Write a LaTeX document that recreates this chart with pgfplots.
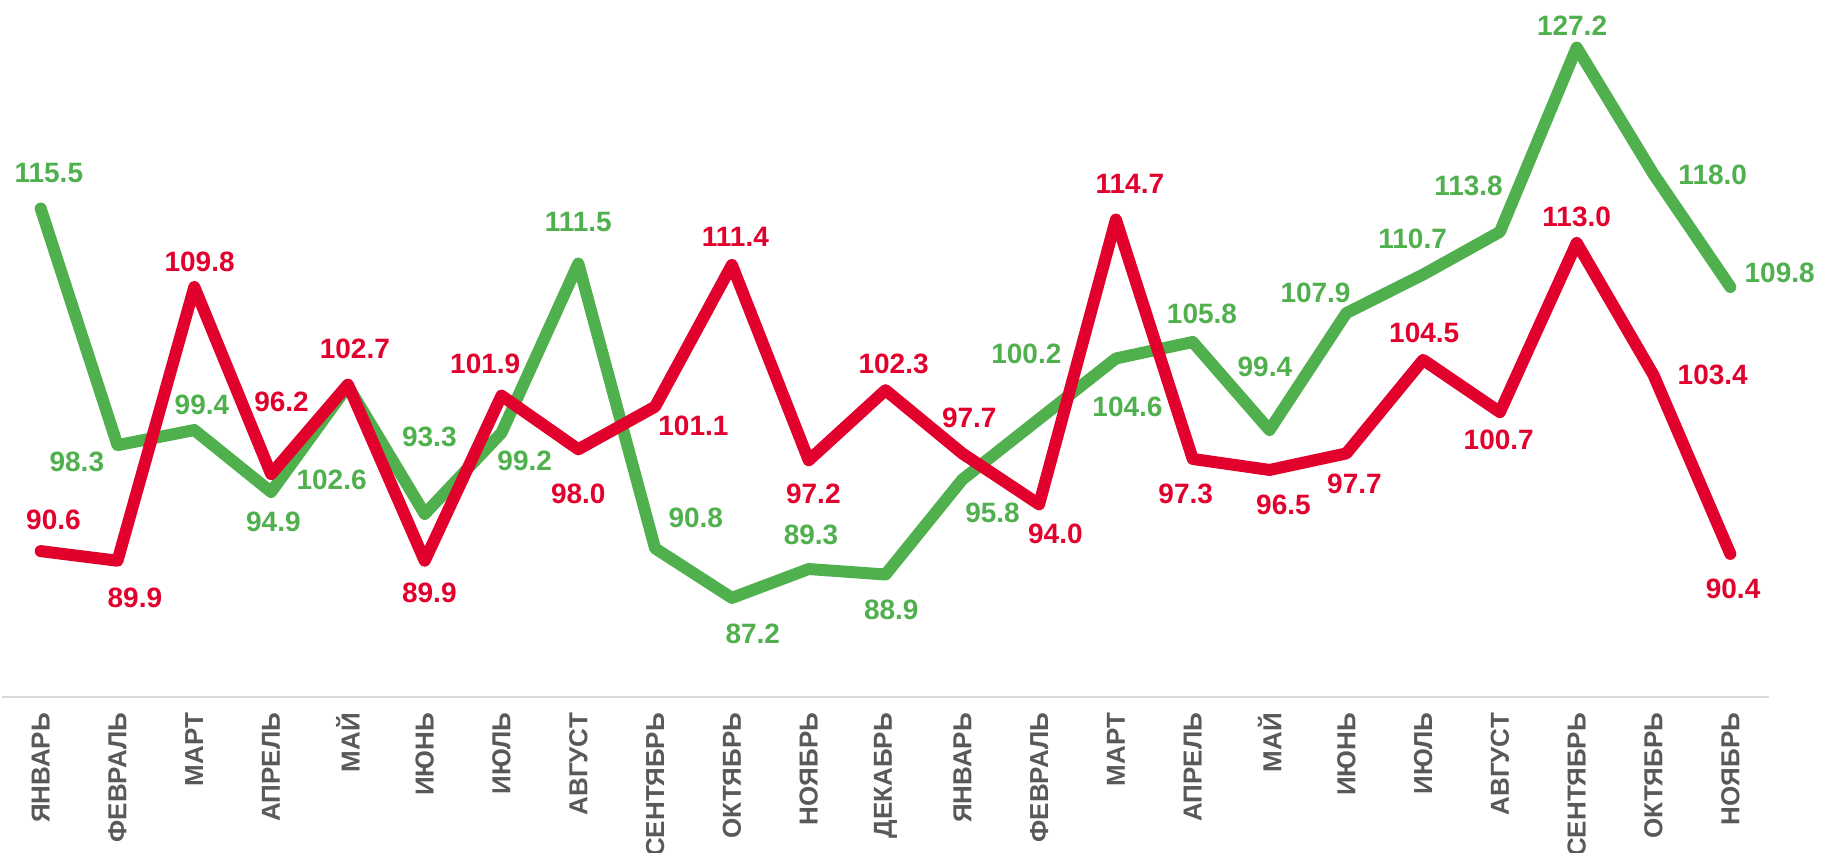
\documentclass[border=0pt]{standalone}
\usepackage{pgfplots}
\pgfplotsset{compat=1.18}
\usepackage{pgfplotstable}
\usepackage{fontspec}
\setmainfont{Liberation Sans}
\definecolor{cgreen}{RGB}{80,176,78}
\definecolor{cred}{RGB}{226,0,45}
\definecolor{ctick}{RGB}{89,89,89}
\definecolor{cline}{RGB}{217,217,217}
\pgfplotstableread{
x g r dxg dyg dxr dyr
0 115.5 90.6 7 -31 11 -27
1 98.3 89.9 -35 14.5 15 32
2 99.4 109.8 6.6 -22 4.6 -21.6
3 94.9 96.2 2 26 9 -62
4 102.6 102.7 -14 81 6 -31
5 93.3 89.9 4 -66 4 28
6 99.2 101.9 20 24 -14 -27.5
7 111.5 98.0 0 -36 0 38
8 90.8 101.1 35 -26 33 16.5
9 87.2 111.4 18 30.6 3 -24
10 89.3 97.2 2 -29 4 28.6
11 88.9 102.3 5 30 7 -23
12 95.8 97.7 26 28.6 6 -31
13 100.2 94.0 -11 -56 14 25
14 104.6 114.7 10 42 12 -31
15 105.8 97.3 8 -24.5 -6 30
16 99.4 96.5 -4 -54 12 30
17 107.9 97.7 -26.5 -17 7 26
18 110.7 104.5 -9 -31 1 -23
19 113.8 100.7 -27 -40 -1 24
20 127.2 113.0 -4 -19 0 -22
21 118.0 103.4 51 1 51 0
22 109.8 90.4 42.5 -12 2.4 30
}\data
\begin{document}
\begin{tikzpicture}
\begin{axis}[
  name=ax,
  scale only axis,
  width=883.2pt, height=344pt,
  xmin=-0.5, xmax=22.5, ymin=80, ymax=130,
  clip=false,
  axis x line*=bottom,
  axis y line=none,
  x axis line style={draw=cline, line width=1pt},
  ytick=\empty,
  xtick={0,...,22},
  major tick length=0pt,
  xticklabels={ЯНВАРЬ,ФЕВРАЛЬ,МАРТ,АПРЕЛЬ,МАЙ,ИЮНЬ,ИЮЛЬ,АВГУСТ,СЕНТЯБРЬ,ОКТЯБРЬ,НОЯБРЬ,ДЕКАБРЬ,ЯНВАРЬ,ФЕВРАЛЬ,МАРТ,АПРЕЛЬ,МАЙ,ИЮНЬ,ИЮЛЬ,АВГУСТ,СЕНТЯБРЬ,ОКТЯБРЬ,НОЯБРЬ},
  xticklabel style={rotate=90, anchor=east, inner sep=0pt, outer sep=8pt,
    font=\fontsize{13}{15}\selectfont\bfseries, text=ctick},
  /pgf/number format/assume math mode=true,
  nodes near coords={\pgfmathprintnumber[fixed,fixed zerofill,precision=1]{\pgfplotspointmeta}},
  every node near coord/.style={anchor=center, inner sep=0pt,
    font=\fontsize{14}{16}\selectfont\bfseries,
    xshift={\dx*0.5807pt}, yshift={-\dy*0.5807pt}},
]
\addplot[cgreen, line width=6pt, line cap=round, line join=round,
  point meta=\thisrow{g}, nodes near coords style={text=cgreen},
  visualization depends on={\thisrow{dxg}\as\dx},
  visualization depends on={\thisrow{dyg}\as\dy}]
  table[x=x, y=g] {\data};
\addplot[cred, line width=6pt, line cap=round, line join=round,
  point meta=\thisrow{r}, nodes near coords style={text=cred},
  visualization depends on={\thisrow{dxr}\as\dx},
  visualization depends on={\thisrow{dyr}\as\dy}]
  table[x=x, y=r] {\data};
\end{axis}
\pgfresetboundingbox
\useasboundingbox ([xshift=-1.15pt,yshift=-78pt]ax.south west) rectangle ([xshift=26.15pt,yshift=4.5pt]ax.north east);
\end{tikzpicture}
\end{document}
